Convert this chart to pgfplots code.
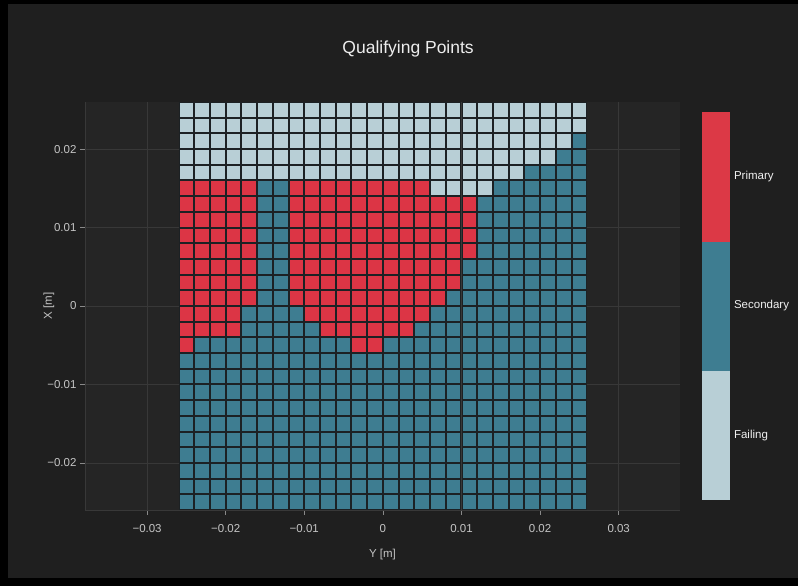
\documentclass[border=0pt]{standalone}
\usepackage{fontspec}
\setmainfont{Liberation Sans}
\usepackage{pgfplots}
\pgfplotsset{compat=1.18}

\definecolor{paper}{HTML}{1F1F1F}
\definecolor{plotbg}{HTML}{252525}
\definecolor{gridc}{HTML}{383838}
\definecolor{cellline}{HTML}{1C2124}
\definecolor{primary}{HTML}{DC3545}
\definecolor{secondary}{HTML}{3E7D91}
\definecolor{failing}{HTML}{B8CFD6}
\definecolor{ticktext}{HTML}{C4C4C4}

% one square per grid point, 0.002 m pitch
\pgfplotsset{cell/.style={only marks, mark=square*, mark size=7.35pt,
    mark options={draw=cellline, line width=1pt, fill=#1}}}

\begin{document}
\begin{tikzpicture}
\fill[black] (0,0) rectangle (798pt,586pt);
\fill[paper] (8pt,8pt) rectangle (798pt,582pt);
\begin{axis}[
    at={(85pt,76pt)}, anchor=south west,
    scale only axis, width=595pt, height=408pt,
    xmin=-0.0379, xmax=0.0378, ymin=-0.026, ymax=0.026,
    scaled ticks=false,
    axis background/.style={fill=plotbg},
    axis x line=bottom, axis y line=left,
    axis line style={draw=gridc, -},
    tick align=outside, major tick length=5pt,
    tick style={draw=ticktext!70!black, line width=0.6pt},
    grid=major, grid style={draw=gridc, line width=0.6pt},
    xtick={-0.03,-0.02,-0.01,0,0.01,0.02,0.03},
    xticklabels={−0.03,−0.02,−0.01,0,0.01,0.02,0.03},
    ytick={-0.02,-0.01,0,0.01,0.02},
    yticklabels={−0.02,−0.01,0,0.01,0.02},
    ticklabel style={font=\fontsize{11.5}{13}\selectfont, text=ticktext},
    xticklabel style={yshift=-6pt},
    xlabel={Y [m]}, ylabel={X [m]},
    xlabel style={at={(axis description cs:0.5,-0.1103)}, anchor=center,
      font=\fontsize{11.5}{13}\selectfont, text=ticktext},
    ylabel style={at={(axis description cs:-0.0605,0.5)}, anchor=center,
      font=\fontsize{11.5}{13}\selectfont, text=ticktext},
    title={Qualifying Points},
    title style={at={(axis description cs:0.543,1.115)}, anchor=center,
      font=\fontsize{17.5}{20}\selectfont, text=white!93!black},
    colormap={cls}{rgb255=(184,207,214) rgb255=(62,125,145) rgb255=(220,57,70)},
    colormap access=piecewise constant,
    point meta min=0, point meta max=3,
    colorbar,
    colorbar style={
      at={(parent axis.north east)}, anchor=north west,
      xshift=13pt, yshift=-10pt,
      scale only axis, width=29pt, height=388pt,
      ytick={0.5,1.5,2.5}, yticklabels={Failing,Secondary,Primary},
      major tick length=0pt, ytick style={draw=none},
      axis line style={draw=none},
      yticklabel style={font=\fontsize{11.5}{13}\selectfont, text=white!94!black},
    },
  ]
  % Failing
  \addplot[cell=failing] coordinates {
    (-0.025,0.025) (-0.023,0.025) (-0.021,0.025) (-0.019,0.025) (-0.017,0.025) (-0.015,0.025) (-0.013,0.025) (-0.011,0.025) (-0.009,0.025) (-0.007,0.025) (-0.005,0.025) (-0.003,0.025) (-0.001,0.025) (0.001,0.025) (0.003,0.025) (0.005,0.025) (0.007,0.025) (0.009,0.025) (0.011,0.025) (0.013,0.025) (0.015,0.025) (0.017,0.025) (0.019,0.025) (0.021,0.025) (0.023,0.025) (0.025,0.025)
    (-0.025,0.023) (-0.023,0.023) (-0.021,0.023) (-0.019,0.023) (-0.017,0.023) (-0.015,0.023) (-0.013,0.023) (-0.011,0.023) (-0.009,0.023) (-0.007,0.023) (-0.005,0.023) (-0.003,0.023) (-0.001,0.023) (0.001,0.023) (0.003,0.023) (0.005,0.023) (0.007,0.023) (0.009,0.023) (0.011,0.023) (0.013,0.023) (0.015,0.023) (0.017,0.023) (0.019,0.023) (0.021,0.023) (0.023,0.023) (0.025,0.023)
    (-0.025,0.021) (-0.023,0.021) (-0.021,0.021) (-0.019,0.021) (-0.017,0.021) (-0.015,0.021) (-0.013,0.021) (-0.011,0.021) (-0.009,0.021) (-0.007,0.021) (-0.005,0.021) (-0.003,0.021) (-0.001,0.021) (0.001,0.021) (0.003,0.021) (0.005,0.021) (0.007,0.021) (0.009,0.021) (0.011,0.021) (0.013,0.021) (0.015,0.021) (0.017,0.021) (0.019,0.021) (0.021,0.021) (0.023,0.021)
    (-0.025,0.019) (-0.023,0.019) (-0.021,0.019) (-0.019,0.019) (-0.017,0.019) (-0.015,0.019) (-0.013,0.019) (-0.011,0.019) (-0.009,0.019) (-0.007,0.019) (-0.005,0.019) (-0.003,0.019) (-0.001,0.019) (0.001,0.019) (0.003,0.019) (0.005,0.019) (0.007,0.019) (0.009,0.019) (0.011,0.019) (0.013,0.019) (0.015,0.019) (0.017,0.019) (0.019,0.019) (0.021,0.019)
    (-0.025,0.017) (-0.023,0.017) (-0.021,0.017) (-0.019,0.017) (-0.017,0.017) (-0.015,0.017) (-0.013,0.017) (-0.011,0.017) (-0.009,0.017) (-0.007,0.017) (-0.005,0.017) (-0.003,0.017) (-0.001,0.017) (0.001,0.017) (0.003,0.017) (0.005,0.017) (0.007,0.017) (0.009,0.017) (0.011,0.017) (0.013,0.017) (0.015,0.017) (0.017,0.017)
    (0.007,0.015) (0.009,0.015) (0.011,0.015) (0.013,0.015)
  };
  % Secondary
  \addplot[cell=secondary] coordinates {
    (0.025,0.021)
    (0.023,0.019) (0.025,0.019)
    (0.019,0.017) (0.021,0.017) (0.023,0.017) (0.025,0.017)
    (-0.015,0.015) (-0.013,0.015) (0.015,0.015) (0.017,0.015) (0.019,0.015) (0.021,0.015) (0.023,0.015) (0.025,0.015)
    (-0.015,0.013) (-0.013,0.013) (0.013,0.013) (0.015,0.013) (0.017,0.013) (0.019,0.013) (0.021,0.013) (0.023,0.013) (0.025,0.013)
    (-0.015,0.011) (-0.013,0.011) (0.013,0.011) (0.015,0.011) (0.017,0.011) (0.019,0.011) (0.021,0.011) (0.023,0.011) (0.025,0.011)
    (-0.015,0.009) (-0.013,0.009) (0.013,0.009) (0.015,0.009) (0.017,0.009) (0.019,0.009) (0.021,0.009) (0.023,0.009) (0.025,0.009)
    (-0.015,0.007) (-0.013,0.007) (0.013,0.007) (0.015,0.007) (0.017,0.007) (0.019,0.007) (0.021,0.007) (0.023,0.007) (0.025,0.007)
    (-0.015,0.005) (-0.013,0.005) (0.011,0.005) (0.013,0.005) (0.015,0.005) (0.017,0.005) (0.019,0.005) (0.021,0.005) (0.023,0.005) (0.025,0.005)
    (-0.015,0.003) (-0.013,0.003) (0.011,0.003) (0.013,0.003) (0.015,0.003) (0.017,0.003) (0.019,0.003) (0.021,0.003) (0.023,0.003) (0.025,0.003)
    (-0.015,0.001) (-0.013,0.001) (0.009,0.001) (0.011,0.001) (0.013,0.001) (0.015,0.001) (0.017,0.001) (0.019,0.001) (0.021,0.001) (0.023,0.001) (0.025,0.001)
    (-0.017,-0.001) (-0.015,-0.001) (-0.013,-0.001) (-0.011,-0.001) (0.007,-0.001) (0.009,-0.001) (0.011,-0.001) (0.013,-0.001) (0.015,-0.001) (0.017,-0.001) (0.019,-0.001) (0.021,-0.001) (0.023,-0.001) (0.025,-0.001)
    (-0.017,-0.003) (-0.015,-0.003) (-0.013,-0.003) (-0.011,-0.003) (-0.009,-0.003) (0.005,-0.003) (0.007,-0.003) (0.009,-0.003) (0.011,-0.003) (0.013,-0.003) (0.015,-0.003) (0.017,-0.003) (0.019,-0.003) (0.021,-0.003) (0.023,-0.003) (0.025,-0.003)
    (-0.023,-0.005) (-0.021,-0.005) (-0.019,-0.005) (-0.017,-0.005) (-0.015,-0.005) (-0.013,-0.005) (-0.011,-0.005) (-0.009,-0.005) (-0.007,-0.005) (-0.005,-0.005) (0.001,-0.005) (0.003,-0.005) (0.005,-0.005) (0.007,-0.005) (0.009,-0.005) (0.011,-0.005) (0.013,-0.005) (0.015,-0.005) (0.017,-0.005) (0.019,-0.005) (0.021,-0.005) (0.023,-0.005) (0.025,-0.005)
    (-0.025,-0.007) (-0.023,-0.007) (-0.021,-0.007) (-0.019,-0.007) (-0.017,-0.007) (-0.015,-0.007) (-0.013,-0.007) (-0.011,-0.007) (-0.009,-0.007) (-0.007,-0.007) (-0.005,-0.007) (-0.003,-0.007) (-0.001,-0.007) (0.001,-0.007) (0.003,-0.007) (0.005,-0.007) (0.007,-0.007) (0.009,-0.007) (0.011,-0.007) (0.013,-0.007) (0.015,-0.007) (0.017,-0.007) (0.019,-0.007) (0.021,-0.007) (0.023,-0.007) (0.025,-0.007)
    (-0.025,-0.009) (-0.023,-0.009) (-0.021,-0.009) (-0.019,-0.009) (-0.017,-0.009) (-0.015,-0.009) (-0.013,-0.009) (-0.011,-0.009) (-0.009,-0.009) (-0.007,-0.009) (-0.005,-0.009) (-0.003,-0.009) (-0.001,-0.009) (0.001,-0.009) (0.003,-0.009) (0.005,-0.009) (0.007,-0.009) (0.009,-0.009) (0.011,-0.009) (0.013,-0.009) (0.015,-0.009) (0.017,-0.009) (0.019,-0.009) (0.021,-0.009) (0.023,-0.009) (0.025,-0.009)
    (-0.025,-0.011) (-0.023,-0.011) (-0.021,-0.011) (-0.019,-0.011) (-0.017,-0.011) (-0.015,-0.011) (-0.013,-0.011) (-0.011,-0.011) (-0.009,-0.011) (-0.007,-0.011) (-0.005,-0.011) (-0.003,-0.011) (-0.001,-0.011) (0.001,-0.011) (0.003,-0.011) (0.005,-0.011) (0.007,-0.011) (0.009,-0.011) (0.011,-0.011) (0.013,-0.011) (0.015,-0.011) (0.017,-0.011) (0.019,-0.011) (0.021,-0.011) (0.023,-0.011) (0.025,-0.011)
    (-0.025,-0.013) (-0.023,-0.013) (-0.021,-0.013) (-0.019,-0.013) (-0.017,-0.013) (-0.015,-0.013) (-0.013,-0.013) (-0.011,-0.013) (-0.009,-0.013) (-0.007,-0.013) (-0.005,-0.013) (-0.003,-0.013) (-0.001,-0.013) (0.001,-0.013) (0.003,-0.013) (0.005,-0.013) (0.007,-0.013) (0.009,-0.013) (0.011,-0.013) (0.013,-0.013) (0.015,-0.013) (0.017,-0.013) (0.019,-0.013) (0.021,-0.013) (0.023,-0.013) (0.025,-0.013)
    (-0.025,-0.015) (-0.023,-0.015) (-0.021,-0.015) (-0.019,-0.015) (-0.017,-0.015) (-0.015,-0.015) (-0.013,-0.015) (-0.011,-0.015) (-0.009,-0.015) (-0.007,-0.015) (-0.005,-0.015) (-0.003,-0.015) (-0.001,-0.015) (0.001,-0.015) (0.003,-0.015) (0.005,-0.015) (0.007,-0.015) (0.009,-0.015) (0.011,-0.015) (0.013,-0.015) (0.015,-0.015) (0.017,-0.015) (0.019,-0.015) (0.021,-0.015) (0.023,-0.015) (0.025,-0.015)
    (-0.025,-0.017) (-0.023,-0.017) (-0.021,-0.017) (-0.019,-0.017) (-0.017,-0.017) (-0.015,-0.017) (-0.013,-0.017) (-0.011,-0.017) (-0.009,-0.017) (-0.007,-0.017) (-0.005,-0.017) (-0.003,-0.017) (-0.001,-0.017) (0.001,-0.017) (0.003,-0.017) (0.005,-0.017) (0.007,-0.017) (0.009,-0.017) (0.011,-0.017) (0.013,-0.017) (0.015,-0.017) (0.017,-0.017) (0.019,-0.017) (0.021,-0.017) (0.023,-0.017) (0.025,-0.017)
    (-0.025,-0.019) (-0.023,-0.019) (-0.021,-0.019) (-0.019,-0.019) (-0.017,-0.019) (-0.015,-0.019) (-0.013,-0.019) (-0.011,-0.019) (-0.009,-0.019) (-0.007,-0.019) (-0.005,-0.019) (-0.003,-0.019) (-0.001,-0.019) (0.001,-0.019) (0.003,-0.019) (0.005,-0.019) (0.007,-0.019) (0.009,-0.019) (0.011,-0.019) (0.013,-0.019) (0.015,-0.019) (0.017,-0.019) (0.019,-0.019) (0.021,-0.019) (0.023,-0.019) (0.025,-0.019)
    (-0.025,-0.021) (-0.023,-0.021) (-0.021,-0.021) (-0.019,-0.021) (-0.017,-0.021) (-0.015,-0.021) (-0.013,-0.021) (-0.011,-0.021) (-0.009,-0.021) (-0.007,-0.021) (-0.005,-0.021) (-0.003,-0.021) (-0.001,-0.021) (0.001,-0.021) (0.003,-0.021) (0.005,-0.021) (0.007,-0.021) (0.009,-0.021) (0.011,-0.021) (0.013,-0.021) (0.015,-0.021) (0.017,-0.021) (0.019,-0.021) (0.021,-0.021) (0.023,-0.021) (0.025,-0.021)
    (-0.025,-0.023) (-0.023,-0.023) (-0.021,-0.023) (-0.019,-0.023) (-0.017,-0.023) (-0.015,-0.023) (-0.013,-0.023) (-0.011,-0.023) (-0.009,-0.023) (-0.007,-0.023) (-0.005,-0.023) (-0.003,-0.023) (-0.001,-0.023) (0.001,-0.023) (0.003,-0.023) (0.005,-0.023) (0.007,-0.023) (0.009,-0.023) (0.011,-0.023) (0.013,-0.023) (0.015,-0.023) (0.017,-0.023) (0.019,-0.023) (0.021,-0.023) (0.023,-0.023) (0.025,-0.023)
    (-0.025,-0.025) (-0.023,-0.025) (-0.021,-0.025) (-0.019,-0.025) (-0.017,-0.025) (-0.015,-0.025) (-0.013,-0.025) (-0.011,-0.025) (-0.009,-0.025) (-0.007,-0.025) (-0.005,-0.025) (-0.003,-0.025) (-0.001,-0.025) (0.001,-0.025) (0.003,-0.025) (0.005,-0.025) (0.007,-0.025) (0.009,-0.025) (0.011,-0.025) (0.013,-0.025) (0.015,-0.025) (0.017,-0.025) (0.019,-0.025) (0.021,-0.025) (0.023,-0.025) (0.025,-0.025)
  };
  % Primary
  \addplot[cell=primary] coordinates {
    (-0.025,0.015) (-0.023,0.015) (-0.021,0.015) (-0.019,0.015) (-0.017,0.015) (-0.011,0.015) (-0.009,0.015) (-0.007,0.015) (-0.005,0.015) (-0.003,0.015) (-0.001,0.015) (0.001,0.015) (0.003,0.015) (0.005,0.015)
    (-0.025,0.013) (-0.023,0.013) (-0.021,0.013) (-0.019,0.013) (-0.017,0.013) (-0.011,0.013) (-0.009,0.013) (-0.007,0.013) (-0.005,0.013) (-0.003,0.013) (-0.001,0.013) (0.001,0.013) (0.003,0.013) (0.005,0.013) (0.007,0.013) (0.009,0.013) (0.011,0.013)
    (-0.025,0.011) (-0.023,0.011) (-0.021,0.011) (-0.019,0.011) (-0.017,0.011) (-0.011,0.011) (-0.009,0.011) (-0.007,0.011) (-0.005,0.011) (-0.003,0.011) (-0.001,0.011) (0.001,0.011) (0.003,0.011) (0.005,0.011) (0.007,0.011) (0.009,0.011) (0.011,0.011)
    (-0.025,0.009) (-0.023,0.009) (-0.021,0.009) (-0.019,0.009) (-0.017,0.009) (-0.011,0.009) (-0.009,0.009) (-0.007,0.009) (-0.005,0.009) (-0.003,0.009) (-0.001,0.009) (0.001,0.009) (0.003,0.009) (0.005,0.009) (0.007,0.009) (0.009,0.009) (0.011,0.009)
    (-0.025,0.007) (-0.023,0.007) (-0.021,0.007) (-0.019,0.007) (-0.017,0.007) (-0.011,0.007) (-0.009,0.007) (-0.007,0.007) (-0.005,0.007) (-0.003,0.007) (-0.001,0.007) (0.001,0.007) (0.003,0.007) (0.005,0.007) (0.007,0.007) (0.009,0.007) (0.011,0.007)
    (-0.025,0.005) (-0.023,0.005) (-0.021,0.005) (-0.019,0.005) (-0.017,0.005) (-0.011,0.005) (-0.009,0.005) (-0.007,0.005) (-0.005,0.005) (-0.003,0.005) (-0.001,0.005) (0.001,0.005) (0.003,0.005) (0.005,0.005) (0.007,0.005) (0.009,0.005)
    (-0.025,0.003) (-0.023,0.003) (-0.021,0.003) (-0.019,0.003) (-0.017,0.003) (-0.011,0.003) (-0.009,0.003) (-0.007,0.003) (-0.005,0.003) (-0.003,0.003) (-0.001,0.003) (0.001,0.003) (0.003,0.003) (0.005,0.003) (0.007,0.003) (0.009,0.003)
    (-0.025,0.001) (-0.023,0.001) (-0.021,0.001) (-0.019,0.001) (-0.017,0.001) (-0.011,0.001) (-0.009,0.001) (-0.007,0.001) (-0.005,0.001) (-0.003,0.001) (-0.001,0.001) (0.001,0.001) (0.003,0.001) (0.005,0.001) (0.007,0.001)
    (-0.025,-0.001) (-0.023,-0.001) (-0.021,-0.001) (-0.019,-0.001) (-0.009,-0.001) (-0.007,-0.001) (-0.005,-0.001) (-0.003,-0.001) (-0.001,-0.001) (0.001,-0.001) (0.003,-0.001) (0.005,-0.001)
    (-0.025,-0.003) (-0.023,-0.003) (-0.021,-0.003) (-0.019,-0.003) (-0.007,-0.003) (-0.005,-0.003) (-0.003,-0.003) (-0.001,-0.003) (0.001,-0.003) (0.003,-0.003)
    (-0.025,-0.005) (-0.003,-0.005) (-0.001,-0.005)
  };
\end{axis}
\end{tikzpicture}
\end{document}
